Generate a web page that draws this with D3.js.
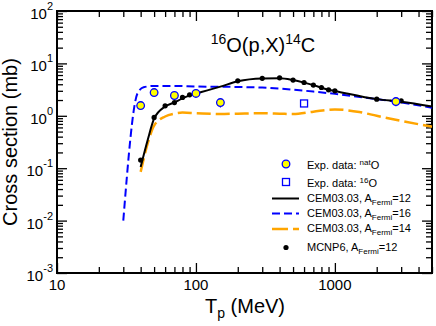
<!DOCTYPE html>
<html>
<head>
<meta charset="utf-8">
<script src="https://cdn.jsdelivr.net/npm/d3@7"></script>
<style>
  body { margin: 0; background: #fff; }
  svg { display: block; font-family: "Liberation Sans", Arial, sans-serif; }
</style>
</head>
<body>
<svg></svg>
<script>
const width = 436;
const height = 326;

// Experimental data, natural oxygen target
const natE = [40, 50, 70, 100, 150, 2750];
const natV = [1.57, 2.78, 2.44, 2.67, 1.79, 1.87];
const natErr = [0.2, 0.3, 0.25, 0.3, 0.35, 0.35];

// Experimental data, 16O target
const o16E = [600];
const o16V = [1.72];

// CEM03.03, A_Fermi = 12
const cem12E = [40, 45, 50, 60, 70, 80, 90, 100, 150, 200, 300, 400, 500, 600, 700, 800, 900, 1000, 2000, 3000, 5000];
const cem12V = [0.105, 0.35, 0.88, 1.5, 1.8, 2.15, 2.45, 2.65, 3.6, 4.55, 5.15, 5.2, 4.8, 4.3, 3.85, 3.45, 3.15, 2.98, 2.08, 1.85, 1.5];

// CEM03.03, A_Fermi = 16
const cem16E = [30, 38, 42, 50, 70, 100, 200, 300, 500, 700, 1000, 2000, 3000, 5000];
const cem16V = [0.01, 2.7, 3.5, 3.72, 3.72, 3.62, 3.55, 3.45, 3.15, 2.9, 2.62, 2.08, 1.8, 1.42];

// CEM03.03, A_Fermi = 14
const cem14E = [40, 45, 50, 60, 70, 80, 100, 150, 200, 300, 400, 500, 700, 1000, 1500, 2000, 3000, 5000];
const cem14V = [0.085, 0.3, 0.65, 0.97, 1.1, 1.15, 1.12, 1.08, 1.1, 1.12, 1.1, 1.08, 1.2, 1.32, 1.18, 1.0, 0.8, 0.62];

// MCNP6, A_Fermi = 12
const mcnpE = [40, 50, 60, 70, 80, 90, 100, 200, 300, 400, 500, 600, 700, 800, 900, 1000, 2000, 3000];
const mcnpV = [0.143, 0.93, 1.55, 1.79, 2.24, 2.51, 2.71, 4.66, 5.2, 5.3, 4.8, 4.32, 3.85, 3.47, 3.13, 3.0, 2.08, 1.93];

// Axis ticks
const xMajor = [10, 100, 1000];
const xLabels = ["10", "100", "1000"];
const yMajor = [1e-3, 1e-2, 1e-1, 1, 10, 100];
const yExp = ["-3", "-2", "-1", "0", "1", "2"];

const svg = d3.select("svg")
    .attr("width", width)
    .attr("height", height);

const pLeft = 57, pRight = 432, pTop = 11, pBottom = 273;

const x = d3.scaleLog().domain([10, 5000]).range([pLeft, pRight]);
const y = d3.scaleLog().domain([1e-3, 1e2]).range([pBottom, pTop]);

// minor ticks
const xMinor = [];
[10, 100, 1000].forEach(d => { for (let k = 2; k <= 9; k++) if (d * k <= 5000) xMinor.push(d * k); });
const yMinor = [];
[1e-3, 1e-2, 1e-1, 1, 10].forEach(d => { for (let k = 2; k <= 9; k++) yMinor.push(d * k); });

function styleAxis(g) {
    g.select(".domain").remove();
    g.selectAll("line").attr("stroke", "#000").attr("stroke-width", 1.3);
    g.selectAll("text").remove();
}

svg.append("g").attr("transform", `translate(0,${pBottom})`)
    .call(d3.axisBottom(x).tickValues(xMajor).tickSize(-10)).call(styleAxis);
svg.append("g").attr("transform", `translate(0,${pBottom})`)
    .call(d3.axisBottom(x).tickValues(xMinor).tickSize(-6)).call(styleAxis);
svg.append("g").attr("transform", `translate(0,${pTop})`)
    .call(d3.axisTop(x).tickValues(xMajor).tickSize(-10)).call(styleAxis);
svg.append("g").attr("transform", `translate(0,${pTop})`)
    .call(d3.axisTop(x).tickValues(xMinor).tickSize(-6)).call(styleAxis);
svg.append("g").attr("transform", `translate(${pLeft},0)`)
    .call(d3.axisLeft(y).tickValues(yMajor).tickSize(-10)).call(styleAxis);
svg.append("g").attr("transform", `translate(${pLeft},0)`)
    .call(d3.axisLeft(y).tickValues(yMinor).tickSize(-6)).call(styleAxis);
svg.append("g").attr("transform", `translate(${pRight},0)`)
    .call(d3.axisRight(y).tickValues(yMajor).tickSize(-10)).call(styleAxis);
svg.append("g").attr("transform", `translate(${pRight},0)`)
    .call(d3.axisRight(y).tickValues(yMinor).tickSize(-6)).call(styleAxis);

// frame
svg.append("rect")
    .attr("x", pLeft).attr("y", pTop)
    .attr("width", pRight - pLeft).attr("height", pBottom - pTop)
    .attr("fill", "none").attr("stroke", "#000").attr("stroke-width", 2);

// tick labels
svg.append("g").selectAll("text").data(xMajor).join("text")
    .attr("x", d => x(d)).attr("y", pBottom + 17)
    .attr("text-anchor", "middle").attr("font-size", 15)
    .text((d, i) => xLabels[i]);

const yl = svg.append("g").selectAll("text").data(yMajor).join("text")
    .attr("x", pLeft - 4).attr("y", d => y(d) + 8)
    .attr("text-anchor", "end").attr("font-size", 15);
yl.append("tspan").text("10");
yl.append("tspan").attr("font-size", 11).attr("dy", -9).text((d, i) => yExp[i]);

// axis titles
svg.append("text")
    .attr("transform", `translate(17,${(pTop + pBottom) / 2}) rotate(-90)`)
    .attr("text-anchor", "middle").attr("font-size", 20)
    .text("Cross section (mb)");

const xt = svg.append("text")
    .attr("x", 245).attr("y", 313)
    .attr("text-anchor", "middle").attr("font-size", 20);
xt.append("tspan").text("T");
xt.append("tspan").attr("font-size", 14).attr("dy", 5).text("p");
xt.append("tspan").attr("dy", -5).text(" (MeV)");

// chart title
const tt = svg.append("text")
    .attr("x", 263).attr("y", 52)
    .attr("text-anchor", "middle").attr("font-size", 20);
tt.append("tspan").attr("font-size", 14).attr("dy", -8).text("16");
tt.append("tspan").attr("dy", 8).text("O(p,X)");
tt.append("tspan").attr("font-size", 14).attr("dy", -8).text("14");
tt.append("tspan").attr("dy", 8).text("C");

// curves
const line = d3.line().x(d => x(d[0])).y(d => y(d[1])).curve(d3.curveMonotoneX);
const plot = svg.append("g");

plot.append("path").datum(d3.zip(cem14E, cem14V))
    .attr("d", line).attr("fill", "none")
    .attr("stroke", "#ffa500").attr("stroke-width", 2.5)
    .attr("stroke-dasharray", "14,5");

plot.append("path").datum(d3.zip(cem16E, cem16V))
    .attr("d", line).attr("fill", "none")
    .attr("stroke", "#0000ff").attr("stroke-width", 2)
    .attr("stroke-dasharray", "8,4");

plot.append("path").datum(d3.zip(cem12E, cem12V))
    .attr("d", line).attr("fill", "none")
    .attr("stroke", "#000").attr("stroke-width", 2);

// MCNP6 dots
plot.append("g").selectAll("circle").data(d3.zip(mcnpE, mcnpV)).join("circle")
    .attr("cx", d => x(d[0])).attr("cy", d => y(d[1])).attr("r", 2.6)
    .attr("fill", "#000");

// natO data with error bars
const nat = d3.zip(natE, natV, natErr);
plot.append("g").selectAll("line").data(nat).join("line")
    .attr("x1", d => x(d[0])).attr("x2", d => x(d[0]))
    .attr("y1", d => y(d[1] - d[2])).attr("y2", d => y(d[1] + d[2]))
    .attr("stroke", "#0000ff").attr("stroke-width", 1.2);
plot.append("g").selectAll("circle").data(nat).join("circle")
    .attr("cx", d => x(d[0])).attr("cy", d => y(d[1])).attr("r", 3.8)
    .attr("fill", "#ffff00").attr("stroke", "#0000ff").attr("stroke-width", 1.3);

// 16O data
plot.append("g").selectAll("rect").data(d3.zip(o16E, o16V)).join("rect")
    .attr("x", d => x(d[0]) - 3.5).attr("y", d => y(d[1]) - 3.5)
    .attr("width", 7).attr("height", 7)
    .attr("fill", "none").attr("stroke", "#0000ff").attr("stroke-width", 1.3);

// legend
const lg = svg.append("g").attr("font-size", 11);
const lx = 286, tx = 307;

lg.append("circle").attr("cx", lx).attr("cy", 164).attr("r", 3.8)
    .attr("fill", "#ffff00").attr("stroke", "#0000ff").attr("stroke-width", 1.3);
let t = lg.append("text").attr("x", tx).attr("y", 168.5);
t.append("tspan").text("Exp. data: ");
t.append("tspan").attr("font-size", 8).attr("dy", -4).text("nat");
t.append("tspan").attr("dy", 4).text("O");

lg.append("rect").attr("x", lx - 3.5).attr("y", 182 - 3.5).attr("width", 7).attr("height", 7)
    .attr("fill", "none").attr("stroke", "#0000ff").attr("stroke-width", 1.3);
t = lg.append("text").attr("x", tx).attr("y", 186.5);
t.append("tspan").text("Exp. data: ");
t.append("tspan").attr("font-size", 8).attr("dy", -4).text("16");
t.append("tspan").attr("dy", 4).text("O");

const legLines = [
    { y: 198.5, stroke: "#000", w: 2, dash: null, a: "12" },
    { y: 213.5, stroke: "#0000ff", w: 2, dash: "8,4", a: "16" },
    { y: 229, stroke: "#ffa500", w: 2.5, dash: "16,5", a: "14" }
];
legLines.forEach(d => {
    lg.append("line").attr("x1", 272).attr("x2", 299).attr("y1", d.y).attr("y2", d.y)
        .attr("stroke", d.stroke).attr("stroke-width", d.w)
        .attr("stroke-dasharray", d.dash);
    const tl = lg.append("text").attr("x", tx).attr("y", d.y + 3);
    tl.append("tspan").text("CEM03.03, A");
    tl.append("tspan").attr("font-size", 8).attr("dy", 3).text("Fermi");
    tl.append("tspan").attr("dy", -3).text("=" + d.a);
});

lg.append("circle").attr("cx", lx).attr("cy", 247.5).attr("r", 2.6).attr("fill", "#000");
t = lg.append("text").attr("x", tx).attr("y", 250.5);
t.append("tspan").text("MCNP6, A");
t.append("tspan").attr("font-size", 8).attr("dy", 3).text("Fermi");
t.append("tspan").attr("dy", -3).text("=12");
</script>
</body>
</html>
